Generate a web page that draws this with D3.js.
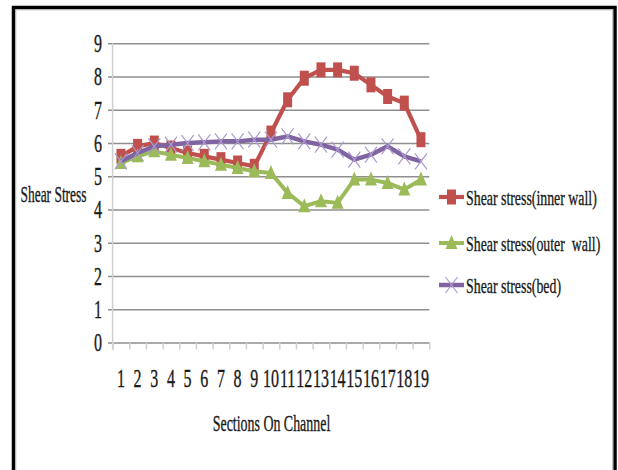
<!DOCTYPE html>
<html>
<head>
<meta charset="utf-8">
<script src="https://cdn.jsdelivr.net/npm/d3@7"></script>
<style>
  body { margin: 0; background: #fff; }
  svg { display: block; }
  text { font-family: "Liberation Serif", "Times New Roman", serif; fill: #1a1a1a; white-space: pre; stroke: #1a1a1a; stroke-width: 0.35; }
</style>
</head>
<body>
<svg id="chart" width="618" height="470"></svg>
<script>
// sections along the channel
var sections = ["1","2","3","4","5","6","7","8","9","10","11","12","13","14","15","16","17","18","19"];
var yTicks = [0,1,2,3,4,5,6,7,8,9];

// shear stress values
var innerWall = [5.6,5.9,6.0,5.85,5.7,5.6,5.5,5.4,5.3,6.3,7.3,7.95,8.2,8.2,8.1,7.75,7.4,7.2,6.1];
var outerWall = [5.4,5.6,5.75,5.65,5.55,5.45,5.35,5.25,5.15,5.1,4.5,4.1,4.25,4.2,4.9,4.9,4.8,4.6,4.9];
var bed       = [5.45,5.7,5.9,5.95,6.0,6.02,6.05,6.05,6.1,6.1,6.2,6.05,5.95,5.8,5.5,5.65,5.9,5.6,5.45];

var seriesNames = ["Shear stress(inner wall)", "Shear stress(outer  wall)", "Shear stress(bed)"];

var svg = d3.select("#chart");

// frame
svg.append("rect").attr("x", 13.5).attr("y", 7.5).attr("width", 601.5).attr("height", 480)
   .attr("fill", "none").attr("stroke", "#000").attr("stroke-width", 3.5);
svg.append("rect").attr("x", 15.75).attr("y", 9.75).attr("width", 597).attr("height", 480)
   .attr("fill", "none").attr("stroke", "#b0b0b0").attr("stroke-width", 1);

var plotL = 112.6, plotR = 429.3, plotT = 43.3, plotB = 342.5;

var y = d3.scaleLinear().domain([0, 9]).range([plotB, plotT]);
var x = d3.scalePoint().domain(sections).range([plotL, plotR]).padding(0.5);
var xb = d3.scaleBand().domain(sections).range([plotL, plotR]);
var xEdge = d3.scaleLinear().domain([0, sections.length]).range([plotL, plotR]);

// grid + y labels
var gy = svg.append("g").attr("transform", "translate(108,0)")
  .call(d3.axisLeft(y).tickValues(yTicks).tickSizeInner(-(plotR - 108)).tickSizeOuter(0).tickPadding(6));
gy.select(".domain").remove();
gy.selectAll(".tick line").attr("stroke", "#8f8f8f").attr("stroke-width", 1.5);
gy.selectAll(".tick text")
  .attr("font-size", 25).attr("font-family", "Liberation Serif").attr("fill", "#222")
  .attr("x", -6 / 0.64).attr("dy", "0.33em")
  .attr("transform", "scale(0.64,1)");

// vertical axis line
svg.append("line").attr("x1", plotL).attr("x2", plotL).attr("y1", plotT).attr("y2", plotB + 7)
  .attr("stroke", "#cfcfcf").attr("stroke-width", 1.5);

// boundary ticks under the x axis
var gt = svg.append("g").attr("transform", "translate(0," + plotB + ")")
  .call(d3.axisBottom(xEdge).tickValues(d3.range(0, sections.length + 1)).tickSize(7).tickFormat(""));
gt.select(".domain").remove();
gt.selectAll(".tick line").attr("stroke", "#cfcfcf").attr("stroke-width", 1.5);

// x labels
var gx = svg.append("g").attr("transform", "translate(0," + plotB + ")")
  .call(d3.axisBottom(xb).tickSize(0).tickPadding(36));
gx.select(".domain").remove();
gx.selectAll(".tick text")
  .attr("font-size", 25).attr("font-family", "Liberation Serif").attr("fill", "#222")
  .attr("dy", "0.35em")
  .attr("transform", "scale(0.64,1)");

// axis titles
function label(txt, cx, cy, size, k) {
  svg.append("text")
    .attr("transform", "translate(" + cx + "," + cy + ") scale(" + k + ",1)")
    .attr("text-anchor", "middle")
    .attr("dy", "0.35em")
    .attr("font-size", size)
    .text(txt);
}
label("Shear Stress", 53.5, 194, 24, 0.56);
label("Sections On Channel", 271.5, 423, 24, 0.58);

// series
var series = [
  { values: innerWall, color: "#c0504d", width: 4.2, marker: "square" },
  { values: outerWall, color: "#9bbb59", width: 4, marker: "triangle" },
  { values: bed,       color: "#8064a2", width: 4.5, marker: "cross" }
];

function drawMarker(g, type, color) {
  if (type == "square") {
    g.append("rect").attr("x", -4.5).attr("y", -7.5).attr("width", 9).attr("height", 15).attr("fill", color);
  } else if (type == "triangle") {
    g.append("path").attr("d", "M0,-8L6,6L-6,6Z").attr("fill", color);
  } else {
    g.append("path").attr("d", "M-6,-8L6,8M6,-8L-6,8")
      .attr("stroke", "#ab9ad0").attr("stroke-width", 1.2).attr("fill", "none");
  }
}

var line = d3.line().x(function (d, i) { return x(sections[i]); }).y(function (d) { return y(d); });

series.forEach(function (s) {
  var g = svg.append("g");
  g.append("path").datum(s.values).attr("d", line)
    .attr("fill", "none").attr("stroke", s.color).attr("stroke-width", s.width)
    .attr("stroke-linejoin", "round");
  g.selectAll("g.m").data(s.values).enter().append("g").attr("class", "m")
    .attr("transform", function (d, i) { return "translate(" + x(sections[i]) + "," + y(d) + ")"; })
    .each(function () { drawMarker(d3.select(this), s.marker, s.color); });
});

// legend
var legendY = [197, 243, 285];
series.forEach(function (s, i) {
  var g = svg.append("g").attr("transform", "translate(0," + legendY[i] + ")");
  g.append("line").attr("x1", 439).attr("x2", 464).attr("y1", 0).attr("y2", 0)
    .attr("stroke", s.color).attr("stroke-width", s.width);
  var m = g.append("g").attr("transform", "translate(451.5,0)");
  drawMarker(m, s.marker, s.color);
  g.append("text")
    .attr("transform", "translate(466,0) scale(0.63,1)")
    .attr("dy", "0.35em").attr("font-size", 22)
    .text(seriesNames[i]);
});
</script>
</body>
</html>
